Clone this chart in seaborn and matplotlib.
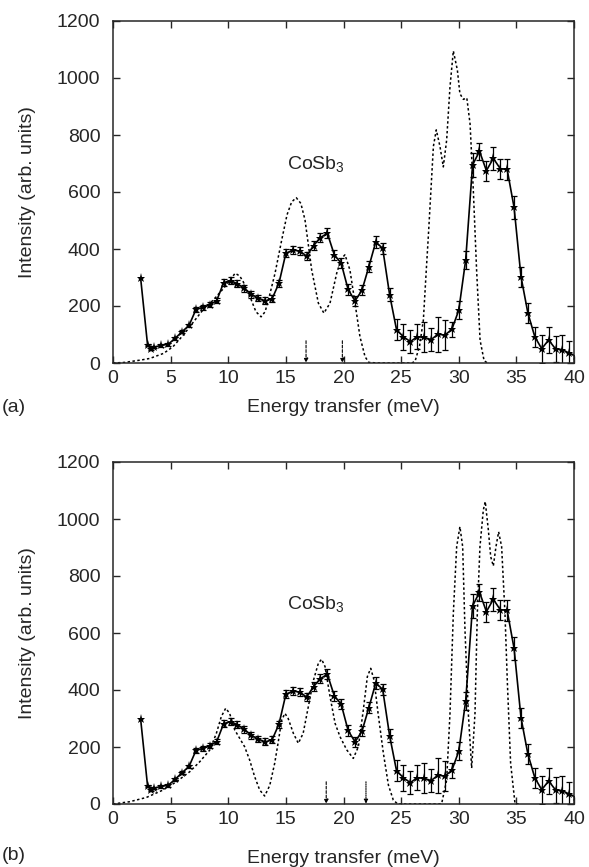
import numpy as np
import pandas as pd
import matplotlib
matplotlib.use("Agg")
import matplotlib.pyplot as plt
import seaborn as sns

# ---------------- data ----------------
energy_exp = [2.4, 3.0, 3.3, 3.6, 4.2, 4.8, 5.4, 6.0, 6.6, 7.2, 7.8, 8.4, 9.0, 9.6,
              10.2, 10.8, 11.4, 12.0, 12.6, 13.2, 13.8, 14.4, 15.0, 15.6, 16.2, 16.8,
              17.4, 18.0, 18.6, 19.2, 19.8, 20.4, 21.0, 21.6, 22.2, 22.8, 23.4, 24.0,
              24.6, 25.2, 25.8, 26.4, 27.0, 27.6, 28.2, 28.8, 29.4, 30.0, 30.6, 31.2,
              31.8, 32.4, 33.0, 33.6, 34.2, 34.8, 35.4, 36.0, 36.6, 37.2, 37.8, 38.4,
              39.0, 39.6, 40.2]
intensity_exp = [297, 63, 49, 56, 62, 66, 87, 110, 132, 188, 195, 204, 219, 282,
                 289, 278, 262, 241, 228, 218, 225, 280, 385, 396, 393, 375,
                 412, 440, 455, 380, 350, 258, 218, 255, 338, 425, 402, 240,
                 117, 92, 75, 92, 90, 82, 101, 98, 118, 185, 361, 695,
                 743, 675, 718, 682, 679, 546, 303, 175, 92, 50, 81, 49,
                 47, 34, 25]
error_exp = [0, 4, 4, 4, 5, 5, 5, 6, 6, 9, 9, 9, 10, 12,
             12, 12, 12, 12, 12, 12, 12, 12, 14, 14, 14, 15,
             15, 15, 17, 17, 18, 18, 18, 18, 20, 20, 20, 22,
             36, 46, 40, 44, 53, 41, 61, 53, 26, 32, 32, 41,
             29, 35, 40, 35, 38, 41, 35, 35, 35, 49, 47, 47,
             53, 42, 0]

energy_calc_a = [0, 1.0, 1.5, 2.5, 3.2, 4.4, 5.2, 6.1, 7.0, 7.8, 8.7, 9.6, 10.15,
                 10.6, 11.0, 11.3, 12.0, 12.4, 12.85, 13.2, 13.6, 14.06, 14.64,
                 15.1, 15.5, 15.9, 16.3, 16.66, 17.0, 17.24, 17.82, 18.3, 18.83,
                 19.41, 19.8, 20.13, 20.56, 21.0, 21.43, 21.87, 22.2, 23.0, 25.0,
                 25.9, 26.2, 26.6, 26.93, 27.2, 27.36, 27.8, 28.05, 28.37, 28.66,
                 28.95, 29.24, 29.53, 29.88, 30.1, 30.4, 30.7, 30.98, 31.26, 31.55,
                 31.85, 32.2, 32.5]
intensity_calc_a = [0, 2, 5, 11, 16, 34, 57, 98, 145, 186, 221, 262, 291,
                    315, 305, 285, 221, 180, 162, 180, 240, 315, 432,
                    520, 565, 580, 560, 502, 400, 326, 210, 175, 210,
                    315, 365, 380, 326, 210, 92, 22, 2, 0, 0,
                    0, 5, 60, 151, 338, 444, 760, 818, 760, 688,
                    782, 969, 1095, 1028, 945, 925, 930, 840, 610, 325,
                    80, 8, 0]

energy_calc_b = [0, 1.45, 2.9, 4.34, 5.5, 6.65, 7.52, 8.39, 8.97, 9.4, 9.78, 10.12,
                 10.56, 11.0, 11.42, 11.86, 12.29, 12.73, 13.16, 13.6, 14.03, 14.32,
                 14.64, 14.92, 15.2, 15.65, 16.08, 16.5, 16.95, 17.4, 17.82, 18.1,
                 18.4, 18.83, 19.27, 19.7, 20.28, 20.85, 21.29, 21.72, 22.07, 22.36,
                 22.65, 23.0, 23.46, 23.9, 24.32, 24.7, 28.3, 28.52, 28.95, 29.24,
                 29.53, 29.82, 30.1, 30.34, 30.54, 30.83, 31.12, 31.41, 31.61, 31.84,
                 32.13, 32.3, 32.57, 32.77, 33.0, 33.23, 33.46, 33.72, 34.01, 34.21,
                 34.5, 34.88, 35.2]
intensity_calc_b = [0, 8, 23, 49, 78, 113, 148, 189, 248, 307, 336, 318,
                    260, 230, 201, 154, 96, 49, 28, 65, 143, 213,
                    295, 318, 300, 248, 213, 248, 342, 435, 494, 508,
                    482, 377, 283, 236, 190, 160, 201, 330, 447, 476,
                    435, 318, 178, 66, 14, 0, 0, 2, 84, 318,
                    669, 903, 973, 903, 611, 318, 126, 318, 669, 903,
                    1031, 1061, 961, 868, 835, 903, 955, 903, 669, 435,
                    143, 2, 0]

arrows_a = [16.75, 19.9]
arrows_b = [18.5, 21.95]
arrow_top = 78

x_ticks = [0, 5, 10, 15, 20, 25, 30, 35, 40]
y_ticks = [0, 200, 400, 600, 800, 1000, 1200]
panel_labels = ["(a)", "(b)"]
xlabel = "Energy transfer (meV)"
ylabel = "Intensity (arb. units)"
compound = "CoSb$_3$"

# ---------------- style ----------------
sns.set_style("ticks")
plt.rcParams["font.family"] = ["Liberation Sans", "DejaVu Sans"]
plt.rcParams["mathtext.fontset"] = "custom"
plt.rcParams["mathtext.rm"] = "Liberation Sans"
plt.rcParams["mathtext.it"] = "Liberation Sans"
plt.rcParams["mathtext.default"] = "regular"
FS = 14
plt.rcParams["font.size"] = FS

W, H = 589, 867
fig = plt.figure(figsize=(W / 100, H / 100), dpi=100)

exp_df = pd.DataFrame({"E": energy_exp, "I": intensity_exp, "err": error_exp})
calc = [pd.DataFrame({"E": energy_calc_a, "I": intensity_calc_a}),
        pd.DataFrame({"E": energy_calc_b, "I": intensity_calc_b})]
arrows = [arrows_a, arrows_b]
arrow_styles = [[(0, (2.5, 1.5)), (0, (2.5, 1.5))], [(0, (2.5, 1.5)), (0, (1, 1))]]

# axes boxes in pixels: left, right, top, bottom
boxes = [(113, 574, 21, 363), (113, 574, 462, 804)]
xlabel_y = [-0.131, -0.158]
panel_y = [408, 855]

for k, (l, r, t, b) in enumerate(boxes):
    ax = fig.add_axes([l / W, 1 - b / H, (r - l) / W, (b - t) / H])
    # theory (dotted)
    sns.lineplot(data=calc[k], x="E", y="I", ax=ax, color="k", lw=1.1,
                 linestyle=(0, (1.6, 1.6)), sort=False, estimator=None,
                 errorbar=None)
    # experiment
    sns.lineplot(data=exp_df, x="E", y="I", ax=ax, color="k", lw=1.2,
                 marker="*", markersize=6.5, markeredgewidth=0, sort=False,
                 estimator=None, errorbar=None)
    m = exp_df["err"] > 0
    ax.errorbar(exp_df["E"][m], exp_df["I"][m], yerr=exp_df["err"][m],
                fmt="none", ecolor="k", elinewidth=0.9, capsize=2.5,
                capthick=0.9)
    for e, ls in zip(arrows[k], arrow_styles[k]):
        ax.annotate("", xy=(e, 1), xytext=(e, arrow_top),
                    arrowprops=dict(arrowstyle="-|>", color="k", lw=0.8,
                                    linestyle=ls, mutation_scale=6,
                                    shrinkA=0, shrinkB=0))
    ax.text(15.1, 700, compound, ha="left", va="center", fontsize=FS)

    ax.set_xlim(0, 40)
    ax.set_ylim(0, 1200)
    ax.set_xticks(x_ticks)
    ax.set_yticks(y_ticks)
    ax.tick_params(direction="in", top=True, right=True, length=5, width=1,
                   labelsize=FS)
    ax.tick_params(axis="y", pad=9)
    ax.tick_params(axis="x", pad=5)
    for s in ax.spines.values():
        s.set_linewidth(1.1)
        s.set_visible(True)
    ax.set_xlabel(xlabel, fontsize=FS)
    ax.set_ylabel(ylabel, fontsize=FS)
    ax.xaxis.set_label_coords(0.5, xlabel_y[k])
    ax.yaxis.set_label_coords(-0.185, 0.5)
    ax.xaxis.label.set_va("center")
    ax.yaxis.label.set_va("center")
    fig.text(2 / W, 1 - panel_y[k] / H, panel_labels[k], ha="left",
             va="center", fontsize=FS)

fig.savefig("out.png", dpi=100)
